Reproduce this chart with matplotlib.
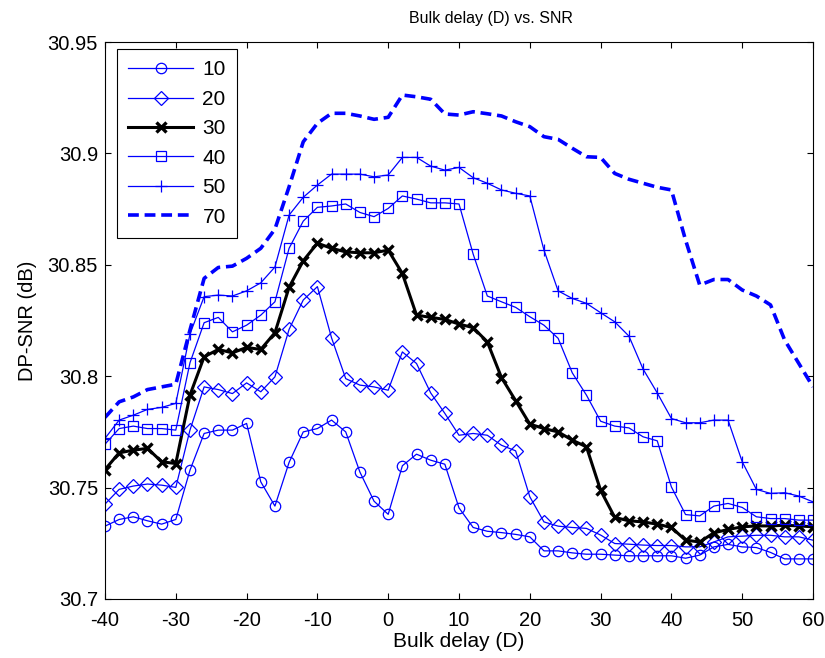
import numpy as np
import matplotlib
matplotlib.use('Agg')
import matplotlib.pyplot as plt

plt.rcParams['font.family'] = ['Liberation Sans', 'DejaVu Sans']
plt.rcParams['axes.unicode_minus'] = False

# bulk delay values
delay = np.arange(-40, 61, 2)

snr_10 = [30.7327, 30.7357, 30.7369, 30.7351, 30.7336, 30.7357, 30.7578, 30.7743, 30.7758, 30.7758,
          30.7788, 30.7526, 30.7417, 30.7613, 30.7750, 30.7765, 30.7803, 30.7750, 30.7570, 30.7439,
          30.7380, 30.7598, 30.7650, 30.7623, 30.7605, 30.7409, 30.7321, 30.7304, 30.7298, 30.7290,
          30.7279, 30.7216, 30.7216, 30.7207, 30.7201, 30.7201, 30.7197, 30.7194, 30.7194, 30.7194,
          30.7194, 30.7183, 30.7197, 30.7234, 30.7245, 30.7234, 30.7231, 30.7209, 30.7180, 30.7180,
          30.7180]
snr_20 = [30.7426, 30.7492, 30.7507, 30.7516, 30.7511, 30.7501, 30.7758, 30.7952, 30.7940, 30.7922,
          30.7970, 30.7930, 30.7997, 30.8210, 30.8342, 30.8402, 30.8172, 30.7989, 30.7960, 30.7952,
          30.7937, 30.8109, 30.8057, 30.7925, 30.7833, 30.7735, 30.7743, 30.7735, 30.7690, 30.7665,
          30.7459, 30.7346, 30.7327, 30.7321, 30.7317, 30.7287, 30.7249, 30.7246, 30.7242, 30.7240,
          30.7240, 30.7234, 30.7234, 30.7256, 30.7279, 30.7282, 30.7286, 30.7286, 30.7279, 30.7279,
          30.7264]
snr_30 = [30.7581, 30.7656, 30.7668, 30.7676, 30.7616, 30.7608, 30.7915, 30.8087, 30.8120, 30.8105,
          30.8129, 30.8120, 30.8195, 30.8399, 30.8518, 30.8597, 30.8574, 30.8558, 30.8554, 30.8554,
          30.8566, 30.8461, 30.8274, 30.8264, 30.8255, 30.8234, 30.8218, 30.8154, 30.7994, 30.7890,
          30.7785, 30.7765, 30.7750, 30.7713, 30.7683, 30.7488, 30.7366, 30.7351, 30.7346, 30.7336,
          30.7321, 30.7264, 30.7256, 30.7297, 30.7312, 30.7324, 30.7328, 30.7328, 30.7331, 30.7328,
          30.7324]
snr_40 = [30.7695, 30.7765, 30.7776, 30.7765, 30.7765, 30.7758, 30.8060, 30.8240, 30.8264, 30.8199,
          30.8229, 30.8274, 30.8334, 30.8574, 30.8696, 30.8758, 30.8764, 30.8773, 30.8735, 30.8716,
          30.8753, 30.8809, 30.8795, 30.8778, 30.8778, 30.8773, 30.8548, 30.8360, 30.8334, 30.8309,
          30.8267, 30.8229, 30.8170, 30.8015, 30.7915, 30.7798, 30.7776, 30.7768, 30.7728, 30.7710,
          30.7503, 30.7379, 30.7373, 30.7417, 30.7429, 30.7411, 30.7369, 30.7361, 30.7361, 30.7354,
          30.7354]
snr_50 = [30.7721, 30.7803, 30.7825, 30.7851, 30.7860, 30.7878, 30.8189, 30.8357, 30.8364, 30.8360,
          30.8383, 30.8419, 30.8490, 30.8723, 30.8803, 30.8858, 30.8907, 30.8907, 30.8907, 30.8895,
          30.8903, 30.8982, 30.8982, 30.8943, 30.8925, 30.8937, 30.8891, 30.8866, 30.8836, 30.8821,
          30.8809, 30.8566, 30.8383, 30.8349, 30.8327, 30.8285, 30.8244, 30.8180, 30.8032, 30.7925,
          30.7810, 30.7791, 30.7791, 30.7803, 30.7803, 30.7616, 30.7492, 30.7474, 30.7477, 30.7462,
          30.7436]
snr_70 = [30.7815, 30.7885, 30.7907, 30.7940, 30.7952, 30.7964, 30.8207, 30.8439, 30.8488, 30.8494,
          30.8529, 30.8574, 30.8660, 30.8850, 30.9052, 30.9135, 30.9180, 30.9180, 30.9168, 30.9153,
          30.9162, 30.9262, 30.9254, 30.9243, 30.9177, 30.9172, 30.9187, 30.9178, 30.9168, 30.9142,
          30.9120, 30.9075, 30.9063, 30.9023, 30.8985, 30.8982, 30.8910, 30.8884, 30.8866, 30.8848,
          30.8836, 30.8611, 30.8409, 30.8434, 30.8434, 30.8387, 30.8360, 30.8320, 30.8162, 30.8057,
          30.7952]

fig = plt.figure(figsize=(8.25, 6.58), dpi=100)
ax = fig.add_axes([105/825, 1-599/658, 708/825, 557/658])

blue = (0, 0, 1)
ax.plot(delay, snr_10, color=blue, lw=0.9, marker='o', ms=7.5, mfc='none', mew=0.9, label='10')
ax.plot(delay, snr_20, color=blue, lw=0.9, marker='D', ms=7, mfc='none', mew=0.9, label='20')
ax.plot(delay, snr_30, color='black', lw=2.2, marker='x', ms=7, mew=2.4, label='30')
ax.plot(delay, snr_40, color=blue, lw=0.9, marker='s', ms=7.5, mfc='none', mew=0.9, label='40')
ax.plot(delay, snr_50, color=blue, lw=0.9, marker='+', ms=8, mew=0.9, label='50')
ax.plot(delay, snr_70, color=blue, lw=2.6, linestyle=(0, (3.0, 1.6)), label='70')

ax.set_xlim(-40, 60)
ax.set_ylim(30.7, 30.95)
ax.set_xticks(np.arange(-40, 61, 10))
ax.set_yticks([30.7, 30.75, 30.8, 30.85, 30.9, 30.95])
ax.set_yticklabels(['30.7', '30.75', '30.8', '30.85', '30.9', '30.95'])
ax.tick_params(direction='in', length=4.5, width=0.8, top=True, right=True, labelsize=14.5)
ax.tick_params(axis='x', pad=9)
ax.tick_params(axis='y', pad=5)
for s in ax.spines.values():
    s.set_linewidth(0.8)

ax.set_xlabel('Bulk delay (D)', fontsize=15, labelpad=1)
ax.set_ylabel('DP-SNR (dB)', fontsize=14.5, labelpad=8)
ax.set_title('Bulk delay (D) vs. SNR', fontsize=11.5, x=0.545, pad=14)

leg = ax.legend(loc='upper left', bbox_to_anchor=(12/708, 1-7/557), borderaxespad=0,
                fontsize=15, handlelength=3.1, handletextpad=0.45, labelspacing=0.5,
                fancybox=False, framealpha=1, edgecolor='black', borderpad=0.55)
leg.get_frame().set_linewidth(0.8)

plt.savefig('out.png', dpi=100)
